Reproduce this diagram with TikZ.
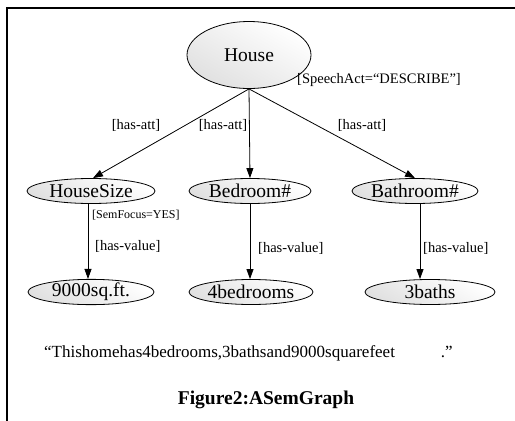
\documentclass[tikz,border=0pt]{standalone}
\usepackage{fontspec}
\setmainfont{Liberation Serif}
\usetikzlibrary{shapes.geometric,arrows.meta}

\tikzset{
  concept/.style={ellipse, draw, line width=0.8pt, inner sep=0pt,
    shading=axis, top color=white, bottom color=gray!24, shading angle=-30,
    font=\fontsize{19.5}{22}\selectfont},
  attr/.style={concept, minimum height=25pt},
  edgelabel/.style={inner sep=0pt, font=\fontsize{14.5}{17}\selectfont},
  smalllabel/.style={inner sep=0pt, font=\fontsize{12}{14}\selectfont},
  link/.style={draw, line width=0.8pt, -{Triangle[length=10pt,width=7pt]}},
  frameline/.style={draw, line width=1.8pt}
}

\begin{document}
\begin{tikzpicture}[x=1pt, y=-1pt]
\useasboundingbox (0,0) rectangle (515,421);

% open frame: top and left rules
\coordinate (fbl) at (7,421);
\coordinate (ftl) at (7,8);
\coordinate (ftr) at (515,8);
\draw[frameline] (fbl) -- (ftl) -- (ftr);

% concept nodes
\node[concept, minimum width=124pt, minimum height=67pt] (house) at (249,55) {House};
\node[attr, minimum width=128pt] (hsize) at (91,191) {HouseSize};
\node[attr, minimum width=122pt] (bed)   at (250,191) {Bedroom\#};
\node[attr, minimum width=126pt] (bath)  at (415,191) {Bathroom\#};
\node[attr, minimum width=126pt] (sqft)  at (91,292) {9000sq.ft.};
\node[attr, minimum width=124pt] (beds)  at (251,292) {4bedrooms};
\node[attr, minimum width=130pt] (baths) at (430,292) {3baths};

% relations
\draw[link] (house.south) -- ([xshift=2pt]hsize.north);
\draw[link] (house.south) -- (bed.north);
\draw[link] (house.south) -- (bath.north);
\draw[link] ([xshift=-3pt]hsize.south) -- ([xshift=-3pt]sqft.north);
\draw[link] (bed.south) -- ([xshift=-1pt]beds.north);
\draw[link] ([xshift=5pt]bath.south) -- ([xshift=-10pt]baths.north);

% edge and node annotations
\node[edgelabel, anchor=west] (speech) at (297,80) {[SpeechAct=“DESCRIBE”]};
\node[edgelabel] (att1) at (136,125) {[has-att]};
\node[edgelabel] (att2) at (223,125) {[has-att]};
\node[edgelabel] (att3) at (362,125) {[has-att]};
\node[smalllabel, anchor=west] (focus) at (92,215) {[SemFocus=YES]};
\node[edgelabel, anchor=west] (val1) at (95,246) {[has-value]};
\node[edgelabel, anchor=west] (val2) at (258,248) {[has-value]};
\node[edgelabel, anchor=west] (val3) at (423,248) {[has-value]};

% sentence and caption
\node[inner sep=0pt, anchor=west, font=\fontsize{17}{20}\selectfont] (sentence) at (44,353)
  {“Thishomehas4bedrooms,3bathsand9000squarefeet\hspace*{46pt}.”};
\node[inner sep=0pt, font=\bfseries\fontsize{19.5}{22}\selectfont] (caption) at (266,400)
  {Figure2:ASemGraph};
\end{tikzpicture}
\end{document}
